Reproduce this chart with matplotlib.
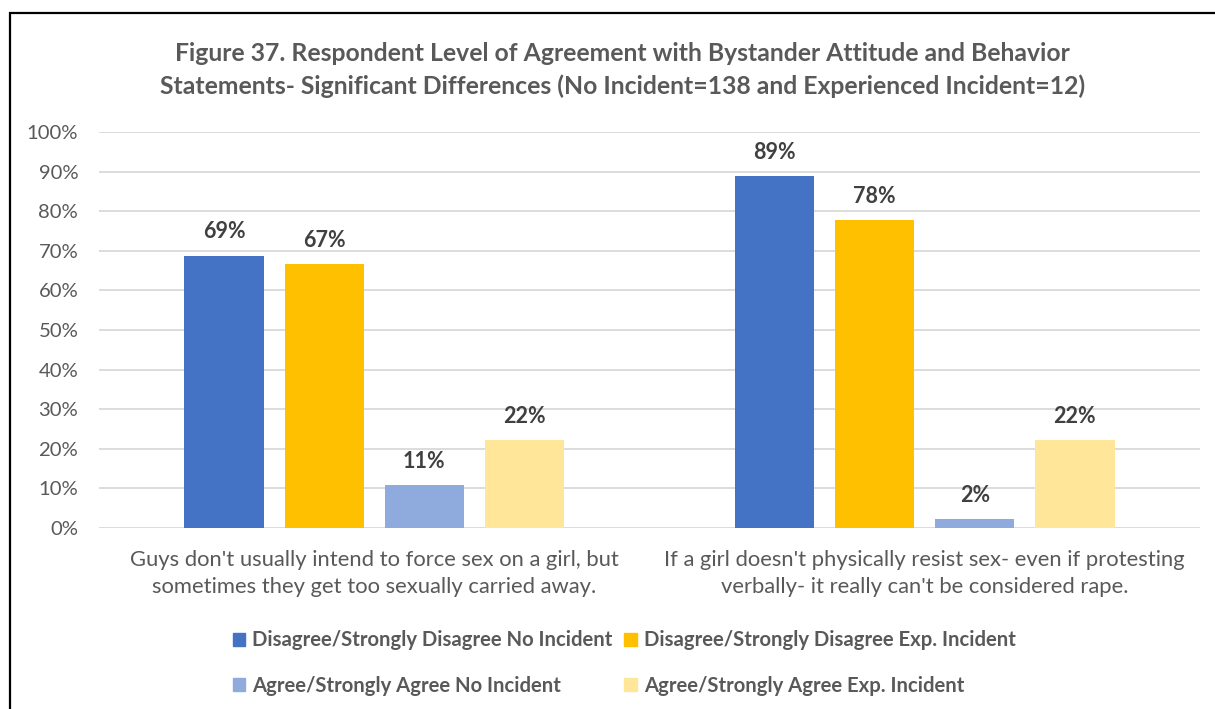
import matplotlib.pyplot as plt
import matplotlib.patches as mpatch
import numpy as np

plt.rcParams['font.family'] = ['Lato', 'DejaVu Sans']

# survey statements on the x axis (two lines each)
statements = [
    "Guys don't usually intend to force sex on a girl, but\nsometimes they get too sexually carried away.",
    "If a girl doesn't physically resist sex- even if protesting\nverbally- it really can't be considered rape.",
]
series_names = [
    'Disagree/Strongly Disagree No Incident',
    'Disagree/Strongly Disagree Exp. Incident',
    'Agree/Strongly Agree No Incident',
    'Agree/Strongly Agree Exp. Incident',
]
# percent of respondents, one list per series
disagree_no_inc = [68.8, 88.9]
disagree_exp_inc = [66.7, 77.8]
agree_no_inc = [10.9, 2.2]
agree_exp_inc = [22.2, 22.2]
y_ticks = [0, 10, 20, 30, 40, 50, 60, 70, 80, 90, 100]

colors = ['#4472C4', '#FFC000', '#8FAADC', '#FFE699']
txt_gray = '#595959'

fig = plt.figure(figsize=(12.15, 7.09), dpi=100)
ax = fig.add_axes([0.0815, 0.2553, 0.906, 0.5585])

x = np.arange(len(statements))
width = 0.144
step = 0.182
all_series = [disagree_no_inc, disagree_exp_inc, agree_no_inc, agree_exp_inc]
for i, vals in enumerate(all_series):
    pos = x + (i - 1.5) * step
    ax.bar(pos, vals, width, color=colors[i], label=series_names[i], zorder=3)
    for p, v in zip(pos, vals):
        ax.text(p, v + 6.0, f'{v:.0f}%', ha='center', va='center',
                fontsize=15.5, fontweight='bold', color='#404040')

ax.set_xlim(-0.5, 1.5)
ax.set_ylim(0, 100)
ax.set_yticks(y_ticks)
ax.set_yticklabels([f'{t}%' for t in y_ticks], fontsize=14.6, color=txt_gray)
ax.set_xticks(x)
ax.set_xticklabels(statements, fontsize=15.8, color=txt_gray, linespacing=1.45)
ax.tick_params(length=0)
ax.tick_params(axis='x', pad=16)
ax.tick_params(axis='y', pad=15)
ax.grid(axis='y', color='#D9D9D9', linewidth=1.3, zorder=0)
for s in ax.spines.values():
    s.set_visible(False)

fig.text(0.512, 0.925, 'Figure 37. Respondent Level of Agreement with Bystander Attitude and Behavior',
         ha='center', va='center', fontsize=17.8, fontweight='bold', color=txt_gray)
fig.text(0.512, 0.879, 'Statements- Significant Differences (No Incident=138 and Experienced Incident=12)',
         ha='center', va='center', fontsize=17.8, fontweight='bold', color=txt_gray)

# legend fills column-wise, so order handles to get two entries per row
handles = [mpatch.Patch(color=c, label=n) for c, n in zip(colors, series_names)]
handles = [handles[0], handles[2], handles[1], handles[3]]
leg = fig.legend(handles=handles, loc='center', bbox_to_anchor=(0.5136, 0.0650), ncol=2,
                 frameon=False, handlelength=0.6, handleheight=0.6, handletextpad=0.35,
                 columnspacing=0.6, labelspacing=1.25,
                 prop={'size': 14.6, 'weight': 'bold'})
for t in leg.get_texts():
    t.set_color(txt_gray)

# outer chart frame
fig.patches.append(mpatch.Rectangle((0.0082, -0.05), 1.1, 0.9817 + 0.05, transform=fig.transFigure,
                                    fill=False, edgecolor='black', linewidth=1.6))

fig.savefig('out.png', dpi=100)
